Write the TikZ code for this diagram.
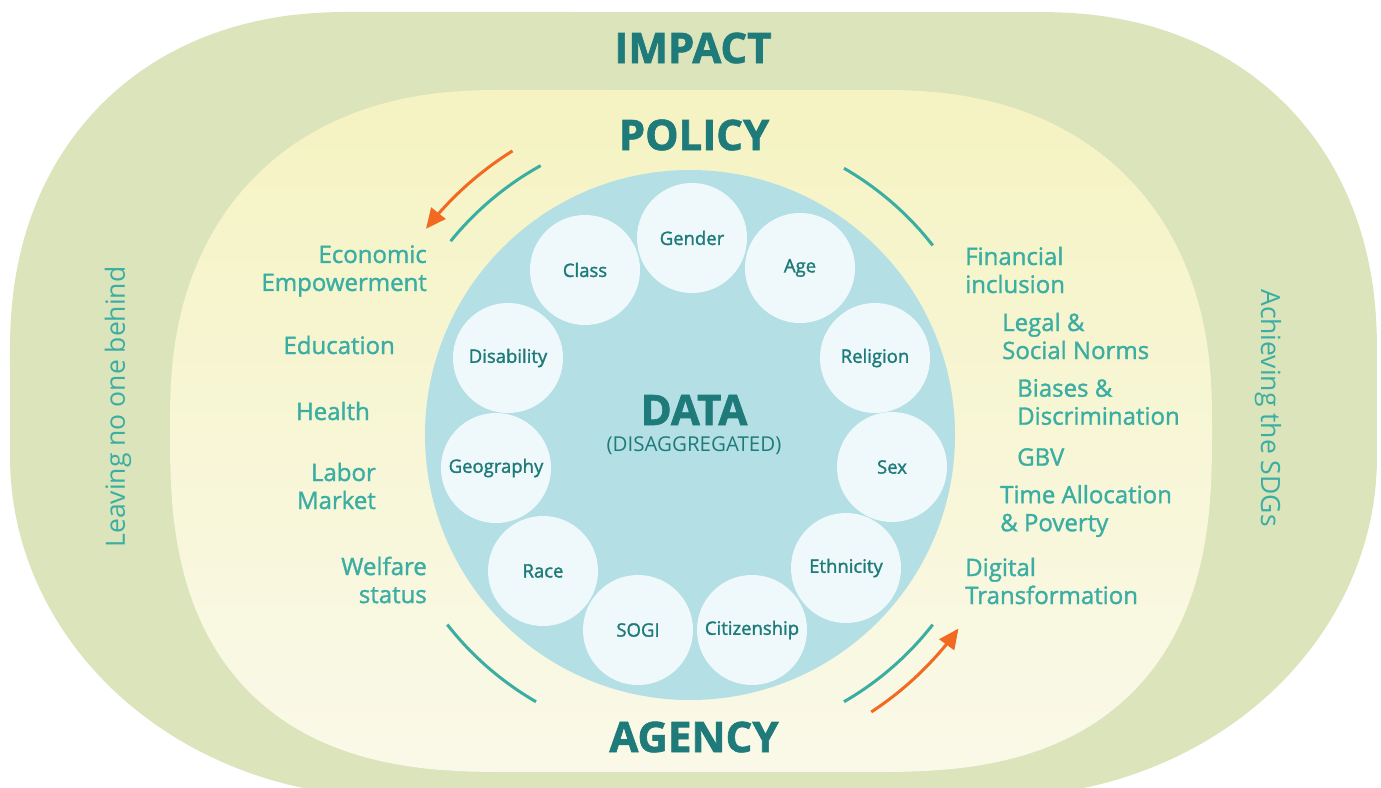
\documentclass[tikz,border=0pt]{standalone}
\usepackage{fontspec}
\setmainfont{Open Sans}
\newfontfamily\semifont{Open Sans}[FakeBold=1.4]
\newfontfamily\labelfont{Open Sans}[FakeBold=1.6]
\newfontfamily\heavyfont{Open Sans}[FakeBold=1.6]
\usetikzlibrary{arrows.meta}
\definecolor{outergreen}{HTML}{DBE4BA}
\definecolor{inyellow}{HTML}{F5F3C2}
\definecolor{inpale}{HTML}{FAF9E9}
\definecolor{datablue}{HTML}{B4E0E5}
\definecolor{circfill}{HTML}{EFF8FA}
\definecolor{darkteal}{HTML}{1F7B7A}
\definecolor{liteteal}{HTML}{3BAEA3}
\definecolor{arcorange}{HTML}{F26A21}
\tikzset{
  smallc/.style={circle, fill=circfill, minimum size=110pt, inner sep=0pt, text=darkteal, font=\labelfont\fontsize{18.5}{20}\selectfont},
  title/.style={text=darkteal, font=\heavyfont\bfseries\fontsize{42}{44}\selectfont},
  lefttxt/.style={text=liteteal, anchor=east, align=right, inner sep=0pt, font=\semifont\fontsize{24}{28}\selectfont},
  righttxt/.style={text=liteteal, anchor=west, align=left, inner sep=0pt, font=\semifont\fontsize{24}{28}\selectfont},
  sidetxt/.style={text=liteteal, font=\fontsize{26.5}{28}\selectfont},
  tealarc/.style={draw=liteteal, line width=3pt},
  orangearrow/.style={draw=arcorange, line width=3pt, -{Triangle[length=20pt,width=18pt]}}
}
\begin{document}
\begin{tikzpicture}[x=1pt,y=-1pt]
\useasboundingbox (0,0) rectangle (1381,787);
\clip (0,0) rectangle (1381,787);
% outer shape: rounded rectangle with squircle corners
\fill[outergreen] plot[domain=0.5:359.5, samples=240, variable=\t]
  ({693.5+sign(cos(\t))*(683.5-ifthenelse(sin(\t)<0,340,380)+ifthenelse(sin(\t)<0,340,380)*abs(cos(\t))^(ifthenelse(sin(\t)<0,0.909,1)))},
   {405+sign(sin(\t))*(ifthenelse(sin(\t)<0,393,392)-340+340*abs(sin(\t))^(ifthenelse(sin(\t)<0,0.909,1)))}) -- cycle;
% inner shape
\shade[top color=inyellow, bottom color=inpale] plot[domain=0.5:359.5, samples=240, variable=\t]
  ({691+sign(cos(\t))*(521-ifthenelse(sin(\t)<0,330,340)+ifthenelse(sin(\t)<0,330,340)*abs(cos(\t))^(ifthenelse(sin(\t)<0,0.87,0.77)))},
   {430+sign(sin(\t))*(ifthenelse(sin(\t)<0,340,342)-ifthenelse(sin(\t)<0,330,340)+ifthenelse(sin(\t)<0,330,340)*abs(sin(\t))^(ifthenelse(sin(\t)<0,0.87,0.77)))}) -- cycle;
% data circle
\node[circle, fill=datablue, minimum size=530pt, inner sep=0pt] (data) at (690,435) {};
% small circles
\node[smallc] (gender) at (692,238) {Gender};
\node[smallc] (class) at (585,270) {Class};
\node[smallc] (age) at (800,268) {Age};
\node[smallc] (disability) at (508,358) {Disability};
\node[smallc] (religion) at (875,358) {Religion};
\node[smallc] (geography) at (496,468) {Geography};
\node[smallc] (sex) at (892,467) {Sex};
\node[smallc] (race) at (543,571) {Race};
\node[smallc] (ethnicity) at (846,568) {Ethnicity};
\node[smallc] (sogi) at (638,630) {SOGI};
\node[smallc] (citizenship) at (752,630) {Citizenship};
% center text
\node[text=darkteal, inner sep=0pt, font=\heavyfont\bfseries\fontsize{42}{44}\selectfont] (datatxt) at (694,410) {DATA};
\node[text=darkteal, inner sep=0pt, font=\fontsize{20.5}{22}\selectfont] (disagg) at (694,446) {(DISAGGREGATED)};
% titles
\node[title] (impact) at (693,48) {IMPACT};
\node[title] (policy) at (694,135) {POLICY};
\node[title] (agency) at (694,737) {AGENCY};
% arcs
\draw[tealarc] plot[domain=-119:-141, samples=40] ({690+308*cos(\x)}, {435+308*sin(\x)});
\draw[tealarc] plot[domain=-38:-60, samples=40] ({690+308*cos(\x)}, {435+308*sin(\x)});
\draw[tealarc] plot[domain=120:142, samples=40] ({690+308*cos(\x)}, {435+308*sin(\x)});
\draw[tealarc] plot[domain=38:60, samples=40] ({690+308*cos(\x)}, {435+308*sin(\x)});
% orange arrows
\draw[orangearrow] plot[domain=-122:-142, samples=40] ({690+335*cos(\x)}, {435+335*sin(\x)});
\draw[orangearrow] plot[domain=56.8:35.8, samples=40] ({690+331*cos(\x)}, {435+331*sin(\x)});
% left list
\node[lefttxt] (econ) at (427,271) {Economic\\Empowerment};
\node[lefttxt] (educ) at (395,345) {Education};
\node[lefttxt] (health) at (370,411) {Health};
\node[lefttxt] (labor) at (376,486) {Labor\\Market};
\node[lefttxt] (welfare) at (427,580) {Welfare\\status};
% right list
\node[righttxt] (fin) at (965,270) {Financial\\inclusion};
\node[righttxt] (legal) at (1002,336) {Legal \&\\Social Norms};
\node[righttxt] (biases) at (1017,402) {Biases \&\\Discrimination};
\node[righttxt] (gbv) at (1017,457) {GBV};
\node[righttxt] (time) at (1000,511) {Time Allocation\\\& Poverty};
\node[righttxt] (digital) at (965,581) {Digital\\Transformation};
% side texts
\node[sidetxt, rotate=90] (leaving) at (118,407) {Leaving no one behind};
\node[sidetxt, rotate=-90] (sdgs) at (1268,408) {Achieving the SDGs};
\end{tikzpicture}
\end{document}
